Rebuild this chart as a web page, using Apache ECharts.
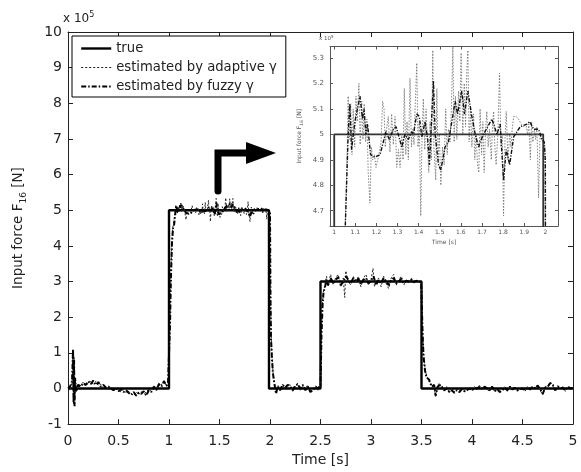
<!DOCTYPE html>
<html><head><meta charset="utf-8">
<script src="https://cdn.jsdelivr.net/npm/echarts@6/dist/echarts.min.js"></script>
<style>html,body{margin:0;padding:0;background:#fff}#c{width:581px;height:472px}</style>
</head><body><div id="c"></div>
<script>
const seriesNames = ['true', 'estimated by adaptive \u03b3', 'estimated by fuzzy \u03b3'];

// true input force (x 10^5 N)
const trueTime  = [0, 1, 1, 1.99, 1.99, 2.5, 2.5, 3.5, 3.5, 5];
const trueValue = [0, 0, 5, 5, 0, 0, 3, 3, 0, 0];

// estimated by adaptive gamma: [time s, force x10^5 N]
const adaptiveFirstZero = [[0,0],[0.02,-0.05],[0.04,0.15],[0.05,1.05],[0.055,-0.45],[0.06,0.9],[0.065,-0.3],[0.07,0.25],[0.085,0.02],[0.1,0.12],[0.125,0.08],[0.15,0.18],[0.175,0.06],[0.2,0.15],[0.225,0.2],[0.25,0.12],[0.275,0.2],[0.3,0.08],[0.325,0.12],[0.35,0],[0.375,0.06],[0.4,-0.02],[0.425,0.03],[0.45,-0.06],[0.475,0],[0.5,-0.05],[0.525,-0.1],[0.55,-0.03],[0.575,-0.12],[0.6,-0.08],[0.625,-0.15],[0.65,-0.2],[0.675,-0.1],[0.7,-0.18],[0.725,-0.08],[0.75,-0.15],[0.775,-0.1],[0.8,-0.02],[0.825,-0.08],[0.85,0.08],[0.875,0],[0.9,0.15],[0.925,0.1],[0.95,0.22],[0.975,0.05],[0.99,0.12],[1.0,0.3],[1.01,2.0],[1.02,3.4],[1.03,4.2],[1.04,4.55]];
const adaptiveFirstStep = [[1.051,4.6],[1.062,4.95],[1.066,5.15],[1.071,4.98],[1.078,5.12],[1.084,4.92],[1.09,5.1],[1.097,4.95],[1.103,5.15],[1.109,5.05],[1.117,5.2],[1.123,4.96],[1.13,5.13],[1.136,4.98],[1.142,5.12],[1.149,4.97],[1.155,5.06],[1.161,4.85],[1.169,4.73],[1.176,4.95],[1.182,4.9],[1.19,4.92],[1.198,4.87],[1.206,4.9],[1.214,4.93],[1.222,4.97],[1.229,5.13],[1.236,5.1],[1.242,4.95],[1.248,5.02],[1.256,5.07],[1.264,4.93],[1.272,5.08],[1.28,4.96],[1.288,5.07],[1.296,4.87],[1.304,4.94],[1.312,4.87],[1.32,5.0],[1.326,4.9],[1.332,5.18],[1.339,4.92],[1.345,5.05],[1.351,4.9],[1.359,5.22],[1.366,4.95],[1.372,5.02],[1.378,4.96],[1.383,5.1],[1.391,5.28],[1.397,4.95],[1.403,5.05],[1.41,4.68],[1.416,5.0],[1.422,5.14],[1.429,4.94],[1.435,5.1],[1.441,4.97],[1.448,4.85],[1.454,5.05],[1.46,4.9],[1.467,5.33],[1.472,4.95],[1.481,4.82],[1.486,5.18],[1.492,4.9],[1.498,5.0],[1.505,4.8],[1.513,4.95],[1.521,4.88],[1.528,5.1],[1.535,4.92],[1.541,5.02],[1.549,4.97],[1.555,5.1],[1.562,5.35],[1.568,4.97],[1.574,5.15],[1.581,4.98],[1.589,5.17],[1.595,5.05],[1.601,5.32],[1.609,5.0],[1.616,5.2],[1.622,5.03],[1.628,5.25],[1.633,5.33],[1.639,4.97],[1.646,5.1],[1.652,4.95],[1.66,5.08],[1.666,4.9],[1.672,5.0],[1.679,4.88],[1.685,4.85],[1.691,5.1],[1.698,4.92],[1.704,5.05],[1.71,4.85],[1.717,5.02],[1.723,5.09],[1.729,4.95],[1.736,5.02],[1.744,4.9],[1.75,5.04],[1.755,5.09],[1.761,4.95],[1.767,4.88],[1.775,5.0],[1.783,5.24],[1.79,4.95],[1.796,5.0],[1.802,4.68],[1.809,4.98],[1.815,5.09],[1.823,4.9],[1.831,5.0],[1.837,4.95],[1.843,5.02],[1.85,5.07],[1.862,5.07],[1.873,5.06],[1.886,5.04],[1.897,5.03],[1.908,5.04],[1.916,5.0],[1.922,5.04],[1.929,4.9],[1.935,5.05],[1.941,4.97],[1.948,5.02],[1.954,4.98],[1.96,5.03],[1.968,4.75],[1.975,5.0],[1.981,4.98],[1.989,4.97],[1.997,4.95]];
const adaptiveSecondZero = [[2.0,4.6],[2.005,2.8],[2.01,1.6],[2.02,0.9],[2.03,0.45],[2.045,0.15],[2.06,-0.1],[2.075,0.1],[2.1,0],[2.125,0.12],[2.15,-0.02],[2.175,0.08],[2.2,0.1],[2.225,-0.08],[2.25,0.05],[2.275,0.15],[2.3,-0.05],[2.325,0.08],[2.35,0],[2.375,0.1],[2.4,-0.12],[2.425,0],[2.45,0.08],[2.475,-0.05],[2.49,0.02]];
const adaptiveSecondStep = [[2.5,0.2],[2.51,1.7],[2.52,2.4],[2.53,2.75],[2.545,2.9],[2.56,3.15],[2.575,2.85],[2.6,3.2],[2.625,2.9],[2.65,3.1],[2.675,3.2],[2.7,2.85],[2.725,3.1],[2.74,2.55],[2.75,3.3],[2.775,3.0],[2.8,2.9],[2.825,3.15],[2.85,2.95],[2.875,3.15],[2.9,2.85],[2.925,3.1],[2.95,3.2],[2.975,2.9],[3.0,3.05],[3.02,3.37],[3.035,2.85],[3.05,3.0],[3.075,3.1],[3.1,2.85],[3.125,3.15],[3.15,2.95],[3.175,2.8],[3.2,3.1],[3.225,3.2],[3.25,2.9],[3.275,3.05],[3.3,3.15],[3.325,2.9],[3.35,3.05],[3.375,2.95],[3.4,3.1],[3.425,2.95],[3.45,3.05],[3.475,2.98],[3.495,3.0]];
const adaptiveLastZero = [[3.5,2.8],[3.51,1.8],[3.52,1.0],[3.535,0.55],[3.55,0.35],[3.575,0.2],[3.6,0.1],[3.625,0.05],[3.64,-0.25],[3.66,0.1],[3.68,0.15],[3.7,0],[3.725,-0.08],[3.75,0.05],[3.775,-0.12],[3.8,0],[3.825,-0.1],[3.85,-0.02],[3.875,-0.12],[3.9,0.02],[3.925,-0.1],[3.95,-0.02],[3.975,0.03],[4.0,-0.08],[4.025,0.05],[4.05,-0.02],[4.075,0.08],[4.1,0],[4.125,0.06],[4.15,-0.03],[4.175,-0.08],[4.2,0.06],[4.225,-0.1],[4.25,0],[4.275,-0.12],[4.3,-0.02],[4.325,0.05],[4.35,-0.08],[4.375,0.06],[4.4,-0.05],[4.425,0.04],[4.45,-0.08],[4.475,0],[4.5,0.03],[4.525,-0.08],[4.55,0.05],[4.575,-0.05],[4.6,0.06],[4.625,0.02],[4.65,0.1],[4.675,-0.05],[4.7,-0.18],[4.725,0.05],[4.75,0.08],[4.775,0.18],[4.8,0.08],[4.825,-0.08],[4.85,0.08],[4.875,-0.02],[4.9,0.05],[4.925,-0.08],[4.95,0.06],[4.975,-0.02],[5.0,0.03]];

// estimated by fuzzy gamma: [time s, force x10^5 N]
const fuzzyFirstZero = [[0,0],[0.02,0.05],[0.04,0.2],[0.05,1.1],[0.055,-0.4],[0.06,0.8],[0.065,-0.5],[0.07,0.3],[0.08,-0.1],[0.1,0.1],[0.125,0.05],[0.15,0.15],[0.175,0.1],[0.2,0.2],[0.225,0.12],[0.25,0.22],[0.275,0.1],[0.3,0.18],[0.325,0.05],[0.35,0.1],[0.375,0.02],[0.4,0.05],[0.425,0],[0.45,-0.05],[0.475,0.02],[0.5,-0.08],[0.525,-0.02],[0.55,-0.1],[0.575,-0.05],[0.6,-0.12],[0.625,-0.18],[0.65,-0.1],[0.675,-0.2],[0.7,-0.12],[0.725,-0.15],[0.75,-0.08],[0.775,-0.2],[0.8,-0.05],[0.825,-0.1],[0.85,0.05],[0.875,-0.05],[0.9,0.12],[0.925,0.05],[0.95,0.2],[0.975,0.08],[0.99,0.15],[1.0,0.2],[1.01,1.8],[1.02,3.2],[1.03,4.1],[1.04,4.5]];
const fuzzyFirstStep = [[1.051,4.6],[1.066,5.0],[1.074,5.12],[1.082,4.94],[1.098,5.05],[1.122,5.15],[1.134,5.06],[1.141,5.1],[1.15,5.0],[1.158,5.04],[1.172,4.92],[1.193,4.91],[1.217,4.92],[1.245,5.01],[1.261,4.98],[1.28,5.02],[1.293,5.03],[1.32,4.95],[1.335,5.0],[1.351,4.98],[1.367,5.01],[1.375,5.0],[1.391,5.08],[1.403,5.07],[1.415,4.99],[1.43,5.05],[1.443,4.98],[1.451,4.88],[1.47,5.21],[1.478,5.0],[1.494,4.88],[1.505,4.86],[1.525,4.95],[1.541,4.97],[1.573,5.13],[1.584,5.08],[1.604,5.17],[1.617,5.08],[1.633,5.17],[1.652,5.07],[1.668,5.0],[1.684,4.95],[1.691,4.97],[1.707,5.0],[1.747,5.06],[1.771,5.0],[1.786,5.04],[1.802,4.82],[1.815,4.94],[1.831,4.88],[1.85,4.99],[1.881,5.03],[1.913,5.04],[1.926,5.05],[1.945,5.02],[1.968,5.02],[1.984,4.98],[1.995,4.97]];
const fuzzySecondZero = [[2.0,4.9],[2.005,2.5],[2.01,1.4],[2.02,0.8],[2.03,0.4],[2.045,0.1],[2.06,-0.15],[2.075,0.05],[2.1,-0.05],[2.125,0.1],[2.15,0.02],[2.175,0.1],[2.2,0.05],[2.225,-0.05],[2.25,0.08],[2.275,0.12],[2.3,0],[2.325,0.1],[2.35,-0.05],[2.375,0.05],[2.4,-0.1],[2.425,-0.05],[2.45,0.05],[2.475,0],[2.49,0.05]];
const fuzzySecondStep = [[2.5,0.1],[2.51,1.5],[2.52,2.3],[2.53,2.7],[2.545,2.85],[2.56,3.05],[2.575,2.9],[2.6,3.1],[2.625,2.95],[2.65,3.05],[2.675,3.12],[2.7,2.9],[2.725,3.0],[2.75,3.15],[2.775,3.05],[2.8,2.95],[2.825,3.1],[2.85,3.0],[2.875,3.08],[2.9,2.92],[2.925,3.05],[2.95,3.1],[2.975,2.95],[3.0,3.02],[3.025,3.15],[3.05,2.9],[3.075,3.05],[3.1,2.95],[3.125,3.1],[3.15,3.0],[3.175,2.9],[3.2,3.05],[3.225,3.1],[3.25,2.95],[3.275,3.0],[3.3,3.08],[3.325,2.95],[3.35,3.02],[3.375,3.0],[3.4,3.05],[3.425,2.98],[3.45,3.02],[3.475,3.0],[3.495,2.98]];
const fuzzyLastZero = [[3.5,2.7],[3.51,1.6],[3.52,0.9],[3.535,0.5],[3.55,0.3],[3.575,0.25],[3.6,0.05],[3.625,0.1],[3.64,-0.2],[3.66,0.05],[3.68,0.1],[3.7,0.05],[3.725,-0.05],[3.75,0],[3.775,-0.1],[3.8,-0.05],[3.825,-0.12],[3.85,-0.05],[3.875,-0.1],[3.9,-0.02],[3.925,-0.08],[3.95,-0.05],[3.975,0],[4.0,-0.05],[4.025,0.02],[4.05,0],[4.075,0.05],[4.1,-0.02],[4.125,0.05],[4.15,0],[4.175,-0.05],[4.2,0.05],[4.225,-0.08],[4.25,-0.02],[4.275,-0.1],[4.3,-0.05],[4.325,0.02],[4.35,-0.05],[4.375,0.05],[4.4,-0.03],[4.425,0.02],[4.45,-0.05],[4.475,-0.02],[4.5,0],[4.525,-0.05],[4.55,0.03],[4.575,-0.02],[4.6,0.05],[4.625,0],[4.65,0.08],[4.675,-0.02],[4.7,-0.15],[4.725,0.02],[4.75,0.05],[4.775,0.15],[4.8,0.1],[4.825,-0.05],[4.85,0.05],[4.875,0],[4.9,0.02],[4.925,-0.05],[4.95,0.05],[4.975,0],[5.0,0.02]];

const insetXTicks = [1, 1.1, 1.2, 1.3, 1.4, 1.5, 1.6, 1.7, 1.8, 1.9, 2];
const insetYTicks = [4.7, 4.8, 4.9, 5, 5.1, 5.2, 5.3];

const truePoints = trueTime.map((t, i) => [t, trueValue[i]]);
const adaptivePoints = [].concat(adaptiveFirstZero, adaptiveFirstStep, adaptiveSecondZero, adaptiveSecondStep, adaptiveLastZero);
const fuzzyPoints = [].concat(fuzzyFirstZero, fuzzyFirstStep, fuzzySecondZero, fuzzySecondStep, fuzzyLastZero);

const FONT = 'DejaVu Sans';
const TXT = '#222';
const INS = '#555';

const chart = echarts.init(document.getElementById('c'), null, {renderer: 'canvas'});

function mirrorX(grid, pos, color, extra) {
  return Object.assign({type: 'value', gridIndex: grid, position: pos,
    axisLine: {show: true, onZero: false, lineStyle: {color: color, width: 1}},
    axisTick: {show: true, inside: true, length: grid === 0 ? 5 : 3, lineStyle: {color: color}},
    axisLabel: {show: false}, splitLine: {show: false}}, extra);
}

const option = {
  animation: false,
  backgroundColor: '#fff',
  textStyle: {fontFamily: FONT},
  title: [
    {text: 'x 10{sup|5}', left: 63, top: 11, padding: 0,
     textStyle: {fontFamily: FONT, fontSize: 12, fontWeight: 'normal', color: TXT, lineHeight: 16,
       rich: {sup: {fontFamily: FONT, fontSize: 8, lineHeight: 8, verticalAlign: 'top', color: TXT}}}},
    {text: 'x 10{sup|5}', left: 319, top: 35, padding: 0,
     textStyle: {fontFamily: FONT, fontSize: 5.5, fontWeight: 'normal', color: INS, lineHeight: 8,
       rich: {sup: {fontFamily: FONT, fontSize: 4, lineHeight: 4, verticalAlign: 'top', color: INS}}}}
  ],
  legend: {
    data: seriesNames, orient: 'vertical', left: 72, top: 36,
    itemWidth: 30, itemHeight: 14, itemGap: 6, padding: [6, 9, 4, 8],
    borderColor: '#000', borderWidth: 1, backgroundColor: '#fff', borderRadius: 0,
    textStyle: {fontFamily: FONT, fontSize: 13.2, color: TXT},
    itemStyle: {opacity: 0},
    lineStyle: {width: 'inherit'},
    selectedMode: false
  },
  grid: [
    {left: 65, top: 32, width: 508, height: 396.5, containLabel: false},
    {left: 330, top: 46.5, width: 228, height: 179.5, containLabel: false}
  ],
  xAxis: [
    {type: 'value', gridIndex: 0, position: 'bottom', min: 0, max: 5, interval: 0.5,
     axisLine: {show: true, onZero: false, lineStyle: {color: '#222', width: 1}},
     axisTick: {show: true, inside: true, length: 5, lineStyle: {color: '#222'}},
     axisLabel: {fontFamily: FONT, fontSize: 14, color: TXT, margin: 10},
     splitLine: {show: false},
     name: 'Time [s]', nameLocation: 'middle', nameGap: 26,
     nameTextStyle: {fontFamily: FONT, fontSize: 14, color: TXT}},
    mirrorX(0, 'top', '#222', {min: 0, max: 5, interval: 0.5}),
    {type: 'value', gridIndex: 1, position: 'bottom', min: 0.98, max: 2.06,
     axisLine: {show: true, onZero: false, lineStyle: {color: INS, width: 1}},
     axisTick: {show: true, inside: true, length: 3, customValues: insetXTicks, lineStyle: {color: INS}},
     axisLabel: {fontFamily: FONT, fontSize: 6, color: INS, margin: 3, customValues: insetXTicks},
     splitLine: {show: false},
     name: 'Time [s]', nameLocation: 'middle', nameGap: 13,
     nameTextStyle: {fontFamily: FONT, fontSize: 6, color: INS}},
    mirrorX(1, 'top', INS, {min: 0.98, max: 2.06, axisTick: {show: true, inside: true, length: 3, customValues: insetXTicks, lineStyle: {color: INS}}})
  ],
  yAxis: [
    {type: 'value', gridIndex: 0, position: 'left', min: -1, max: 10, interval: 1,
     axisLine: {show: true, onZero: false, lineStyle: {color: '#222', width: 1}},
     axisTick: {show: true, inside: true, length: 5, lineStyle: {color: '#222'}},
     axisLabel: {fontFamily: FONT, fontSize: 14, color: TXT, margin: 6},
     splitLine: {show: false},
     name: 'Input force F{sub|16} [N]', nameLocation: 'middle', nameGap: 40,
     nameTextStyle: {fontFamily: FONT, fontSize: 13.5, color: TXT, lineHeight: 20,
       rich: {sub: {fontFamily: FONT, fontSize: 9, lineHeight: 9, verticalAlign: 'bottom', color: TXT}}}},
    mirrorX(0, 'right', '#222', {min: -1, max: 10, interval: 1}),
    {type: 'value', gridIndex: 1, position: 'left', min: 4.64, max: 5.345,
     axisLine: {show: true, onZero: false, lineStyle: {color: INS, width: 1}},
     axisTick: {show: true, inside: true, length: 3, customValues: insetYTicks, lineStyle: {color: INS}},
     axisLabel: {fontFamily: FONT, fontSize: 7, color: INS, margin: 6, customValues: insetYTicks},
     splitLine: {show: false},
     name: 'Input force F{sub|16} [N]', nameLocation: 'middle', nameGap: 26,
     nameTextStyle: {fontFamily: FONT, fontSize: 6, color: INS, lineHeight: 10,
       rich: {sub: {fontFamily: FONT, fontSize: 4.5, lineHeight: 4.5, verticalAlign: 'bottom', color: INS}}}},
    mirrorX(1, 'right', INS, {min: 4.64, max: 5.345, axisTick: {show: true, inside: true, length: 3, customValues: insetYTicks, lineStyle: {color: INS}}})
  ],
  graphic: [
    {type: 'polyline', silent: true, z: 50,
     shape: {points: [[218, 191], [218, 153], [249, 153]]},
     style: {stroke: '#000', lineWidth: 7, fill: null, lineJoin: 'miter', lineCap: 'round'}},
    {type: 'polygon', silent: true, z: 50,
     shape: {points: [[246, 142], [276, 153], [246, 164]]},
     style: {fill: '#000'}}
  ],
  series: [
    {name: seriesNames[0], type: 'line', xAxisIndex: 0, yAxisIndex: 0, data: truePoints,
     symbol: 'none', lineStyle: {color: '#000', width: 2.4, type: 'solid'}, itemStyle: {color: '#000'}, z: 3},
    {name: seriesNames[1], type: 'line', xAxisIndex: 0, yAxisIndex: 0, data: adaptivePoints,
     symbol: 'none', lineStyle: {color: '#222', width: 1, type: [2, 2]}, itemStyle: {color: '#222'}, z: 4},
    {name: seriesNames[2], type: 'line', xAxisIndex: 0, yAxisIndex: 0, data: fuzzyPoints,
     symbol: 'none', lineStyle: {color: '#000', width: 2, type: [5, 2, 1.5, 2]}, itemStyle: {color: '#000'}, z: 5},
    {name: seriesNames[0], type: 'line', xAxisIndex: 2, yAxisIndex: 2, data: truePoints, clip: true,
     symbol: 'none', lineStyle: {color: '#333', width: 1.8}, itemStyle: {color: '#000'}, z: 3},
    {name: seriesNames[1], type: 'line', xAxisIndex: 2, yAxisIndex: 2, data: adaptivePoints, clip: true,
     symbol: 'none', lineStyle: {color: '#666', width: 0.8, type: [1.5, 1.5]}, itemStyle: {color: '#222'}, z: 4},
    {name: seriesNames[2], type: 'line', xAxisIndex: 2, yAxisIndex: 2, data: fuzzyPoints, clip: true,
     symbol: 'none', lineStyle: {color: '#111', width: 1.4, type: [4, 1.5, 1.2, 1.5]}, itemStyle: {color: '#000'}, z: 5}
  ]
};
chart.setOption(option);
</script>
</body></html>
